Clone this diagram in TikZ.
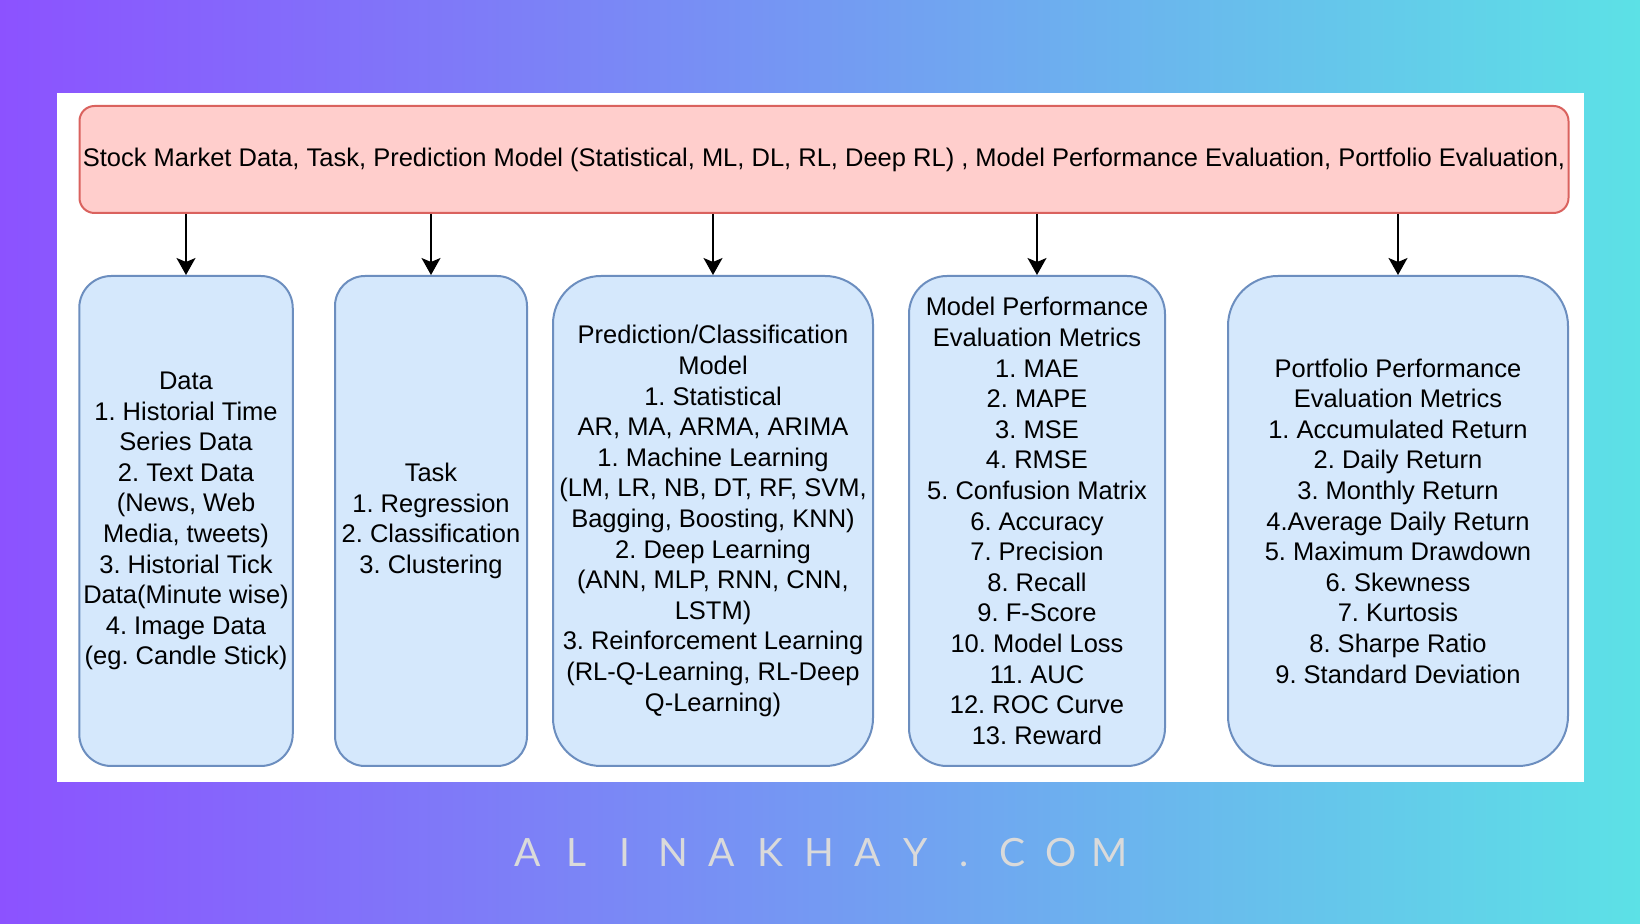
\documentclass[tikz,border=0pt]{standalone}
\usepackage{fontspec}
\setmainfont{Liberation Sans}
\newfontfamily\markfont{Lato}
\usetikzlibrary{arrows.meta}
\definecolor{bgleft}{HTML}{8C52FF}
\definecolor{bgright}{HTML}{5CE1E6}
\definecolor{topfill}{HTML}{FFCECC}
\definecolor{topline}{HTML}{DA625E}
\definecolor{boxfill}{HTML}{D5E8FC}
\definecolor{boxline}{HTML}{6C8EBF}
\definecolor{markgray}{HTML}{DADADA}
\frenchspacing

\begin{document}
\begin{tikzpicture}[x=0.5pt, y=-0.5pt,
        txt/.style={font=\fontsize{12.75}{15.3}\selectfont, align=center, inner sep=0pt},
        topbox/.style={txt, draw=topline, fill=topfill, line width=1pt, rounded corners=7.5pt, minimum width=744.5pt, minimum height=53.5pt},
        colbox/.style={txt, draw=boxline, fill=boxfill, line width=1pt, minimum height=245pt},
        wmark/.style={text=markgray, font=\markfont\fontsize{19.5}{19.5}\selectfont, anchor=base, inner sep=0pt},
        >={Stealth[length=8.5pt, width=9.5pt, inset=2pt]}]
    \shade[left color=bgleft, right color=bgright] (0, 0) rectangle (1640, 924);
    \fill[white] (56.5, 92.7) rectangle (1583.6, 782);
    \node[topbox] (top) at (824, 159.5) {Stock Market Data, Task, Prediction Model (Statistical, ML, DL, RL, Deep RL) , Model Performance Evaluation, Portfolio Evaluation,};
    \node[colbox, minimum width=106.75pt, rounded corners=16pt] (data) at (186, 521) {Data\\1. Historial Time\\Series Data\\2. Text Data\\(News, Web\\Media, tweets)\\3. Historial Tick\\Data(Minute wise)\\4. Image Data\\(eg. Candle Stick)};
    \node[colbox, minimum width=96pt, rounded corners=15pt] (task) at (431, 521) {Task\\1. Regression\\2. Classification\\3. Clustering};
    \node[colbox, minimum width=160pt, rounded corners=24pt] (model) at (713, 521) {Prediction/Classification\\Model\\1. Statistical\\AR, MA, ARMA, ARIMA\\1. Machine Learning\\(LM, LR, NB, DT, RF, SVM,\\Bagging, Boosting, KNN)\\2. Deep Learning\\(ANN, MLP, RNN, CNN,\\LSTM)\\3. Reinforcement Learning\\(RL-Q-Learning, RL-Deep\\Q-Learning)};
    \node[colbox, minimum width=128pt, rounded corners=19pt] (metric) at (1037, 521) {Model Performance\\Evaluation Metrics\\1. MAE\\2. MAPE\\3. MSE\\4. RMSE\\5. Confusion Matrix\\6. Accuracy\\7. Precision\\8. Recall\\9. F-Score\\10. Model Loss\\11. AUC\\12. ROC Curve\\13. Reward};
    \node[colbox, minimum width=170pt, rounded corners=25pt] (folio) at (1398, 521) {Portfolio Performance\\Evaluation Metrics\\1. Accumulated Return\\2. Daily Return\\3. Monthly Return\\4.Average Daily Return\\5. Maximum Drawdown\\6. Skewness\\7. Kurtosis\\8. Sharpe Ratio\\9. Standard Deviation};
    \foreach \b in {data, task, model, metric, folio}
        \draw[->, line width=0.8pt] (\b.north |- top.south) -- (\b.north);
    \foreach \c [count=\i from 0] in {A,L,I,N,A,K,H,A,Y,.,C,O,M}
        \node[wmark] (w\i) at (528 + 48.5*\i, 867) {\c};
\end{tikzpicture}
\end{document}
